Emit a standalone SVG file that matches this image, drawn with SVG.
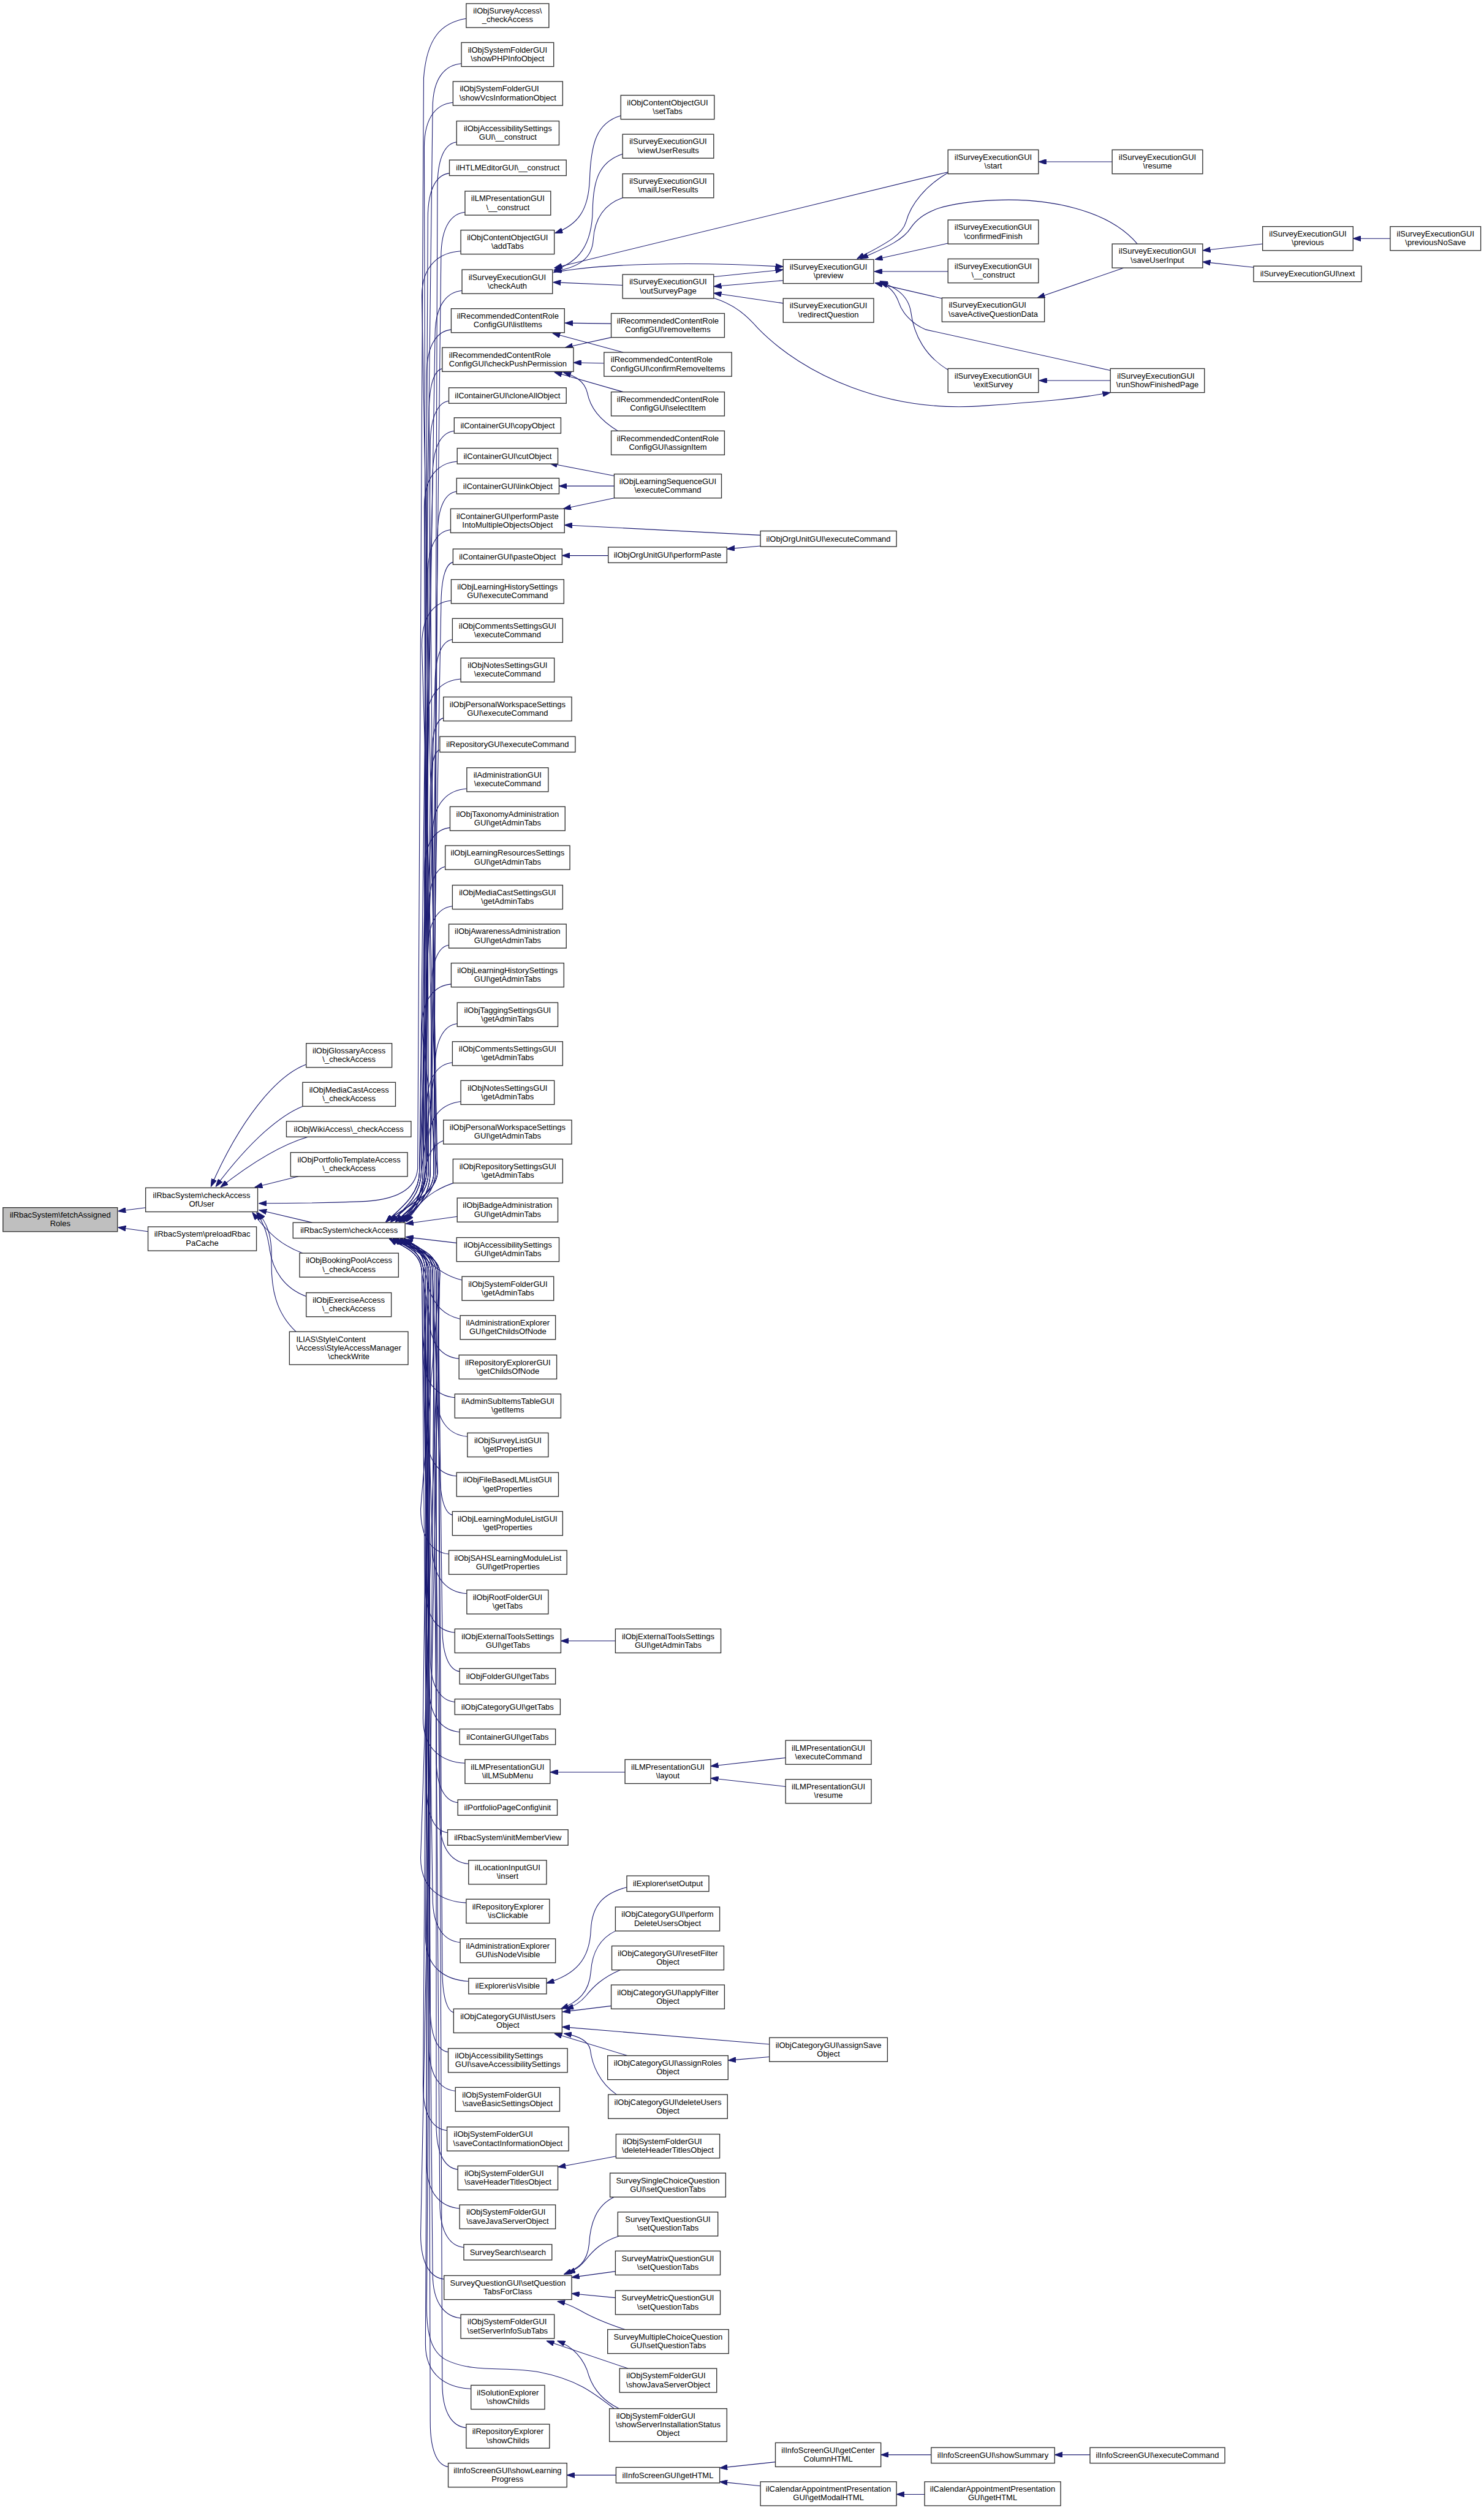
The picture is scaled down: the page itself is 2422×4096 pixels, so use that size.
<svg xmlns="http://www.w3.org/2000/svg" width="2422" height="4096" viewBox="0 0 2422 4096">
<style>
.n rect{fill:#fff;stroke:#333;stroke-width:1.4}
.r rect{fill:#bfbfbf}
.n text{font-family:"Liberation Sans",Arial,Helvetica,sans-serif;font-size:13.3px;text-anchor:middle;fill:#000}
.n text.l{text-anchor:start}
.e path{fill:none;stroke:#191970;stroke-width:1.1;marker-end:url(#ah)}
</style>
<defs>
<marker id="ah" viewBox="0 0 13 9" refX="13" refY="4.5" markerWidth="13" markerHeight="9" markerUnits="userSpaceOnUse" orient="auto"><path d="M0,0 L13,4.5 L0,9 Z" fill="#191970" stroke="#191970" stroke-width="1"/></marker>
</defs>
<rect width="2422" height="4096" fill="#fff"/>
<g transform="scale(0.978)">
<g id="edges" class="e">
<path d="M243,2015 L197,2021"/>
<path d="M247,2055 L197,2048"/>
<path d="M511,1776 C460,1795 400,1870 352,1980"/>
<path d="M505,1846 C470,1860 420,1900 360,1980"/>
<path d="M514,1897 C470,1910 420,1940 368,1981"/>
<path d="M498,1963 L425,1981"/>
<path d="M521,2040 L432,2019"/>
<path d="M505,2091 C470,2078 450,2060 421,2023"/>
<path d="M511,2163 C475,2150 455,2120 450,2085 C446,2055 438,2038 428,2023"/>
<path d="M494,2222 C460,2190 452,2150 453,2100 C454,2060 445,2040 430,2023"/>
<path d="M778,31 C735,38 712,65 707,130 L697,1950 C694,1985 660,2003 600,2005 C520,2008 470,2008 432,2008"/>
<path d="M770,106 c-24,2 -48,20 -48,75 L700,1955 C700,1995 666,2018 644,2039"/>
<path d="M756,171 c-24,2 -48,20 -48,75 L712,1955 C712,1995 674,2018 652,2039"/>
<path d="M762,237 c-16,2 -32,20 -32,75 L724,1955 C724,1995 682,2018 660,2039"/>
<path d="M750,289 c-18,2 -36,20 -36,75 L706,1955 C706,1995 689,2018 667,2039"/>
<path d="M776,354 c-20,2 -40,20 -40,75 L718,1955 C718,1995 695,2018 673,2039"/>
<path d="M769,419 c-32,2 -65,20 -65,75 L730,1955 C730,1995 666,2018 644,2039"/>
<path d="M771,485 c-22,2 -45,20 -45,75 L703,1955 C703,1995 674,2018 652,2039"/>
<path d="M753,550 c-20,2 -41,20 -41,75 L715,1955 C715,1995 682,2018 660,2039"/>
<path d="M738,615 c-11,2 -22,20 -22,75 L727,1955 C727,1995 689,2018 667,2039"/>
<path d="M749,669 c-15,2 -31,20 -31,75 L709,1955 C709,1995 695,2018 673,2039"/>
<path d="M758,719 c-18,2 -36,20 -36,75 L700,1955 C700,1995 666,2018 644,2039"/>
<path d="M763,770 c-27,2 -55,20 -55,75 L712,1955 C712,1995 674,2018 652,2039"/>
<path d="M762,820 c-16,2 -32,20 -32,75 L724,1955 C724,1995 682,2018 660,2039"/>
<path d="M752,884 c-19,2 -38,20 -38,75 L706,1955 C706,1995 689,2018 667,2039"/>
<path d="M756,938 c-10,2 -20,20 -20,75 L718,1955 C718,1995 695,2018 673,2039"/>
<path d="M753,1002 c-24,2 -49,20 -49,75 L730,1955 C730,1995 666,2018 644,2039"/>
<path d="M755,1067 c-14,2 -29,20 -29,75 L703,1955 C703,1995 674,2018 652,2039"/>
<path d="M769,1133 c-28,2 -57,20 -57,75 L715,1955 C715,1995 682,2018 660,2039"/>
<path d="M740,1198 c-10,2 -20,20 -20,75 L727,1955 C727,1995 689,2018 667,2039"/>
<path d="M734,1251 c-8,2 -16,20 -16,75 L709,1955 C709,1995 695,2018 673,2039"/>
<path d="M779,1316 c-28,2 -57,20 -57,75 L700,1955 C700,1995 666,2018 644,2039"/>
<path d="M751,1381 c-21,2 -43,20 -43,75 L712,1955 C712,1995 674,2018 652,2039"/>
<path d="M743,1446 c-13,2 -27,20 -27,75 L724,1955 C724,1995 682,2018 660,2039"/>
<path d="M755,1512 c-20,2 -41,20 -41,75 L706,1955 C706,1995 689,2018 667,2039"/>
<path d="M749,1577 c-14,2 -29,20 -29,75 L718,1955 C718,1995 695,2018 673,2039"/>
<path d="M753,1642 c-24,2 -49,20 -49,75 L730,1955 C730,1995 666,2018 644,2039"/>
<path d="M763,1708 c-18,2 -37,20 -37,75 L703,1955 C703,1995 674,2018 652,2039"/>
<path d="M755,1773 c-21,2 -43,20 -43,75 L715,1955 C715,1995 682,2018 660,2039"/>
<path d="M769,1838 C740,1842 716,1858 714,1910 C712,1990 690,2020 670,2039"/>
<path d="M740,1903 C720,1910 710,1935 708,1965 C706,2005 690,2025 665,2039"/>
<path d="M763,1972 C735,1980 712,1995 700,2010 L678,2039"/>
<path d="M763,2030 L677,2042"/>
<path d="M762,2074 L677,2064"/>
<path d="M771,2136 C745,2130 722,2112 708,2098 C697,2086 688,2074 676,2067"/>
<path d="M768,2201 C742,2195 724,2178 716,2150 C710,2120 700,2085 670,2067"/>
<path d="M766,2267 c-25,-2 -50,-20 -50,-75 L704,2125 C704,2088 672,2080 650,2067"/>
<path d="M759,2332 c-26,-2 -53,-20 -53,-75 L716,2125 C716,2088 678,2080 656,2067"/>
<path d="M780,2397 c-26,-2 -52,-20 -52,-75 L728,2125 C728,2088 684,2080 662,2067"/>
<path d="M762,2463 c-25,-2 -50,-20 -50,-75 L710,2125 C710,2088 690,2080 668,2067"/>
<path d="M755,2528 c-10,-2 -21,-20 -21,-75 L722,2125 C722,2088 696,2080 674,2067"/>
<path d="M749,2593 c-23,-2 -47,-20 -47,-75 L734,2125 C734,2088 672,2080 650,2067"/>
<path d="M779,2659 c-28,-2 -57,-20 -57,-75 L707,2125 C707,2088 678,2080 656,2067"/>
<path d="M759,2724 c-24,-2 -49,-20 -49,-75 L719,2125 C719,2088 684,2080 662,2067"/>
<path d="M767,2789 c-14,-2 -29,-20 -29,-75 L731,2125 C731,2088 690,2080 668,2067"/>
<path d="M759,2840 c-20,-2 -41,-20 -41,-75 L713,2125 C713,2088 696,2080 674,2067"/>
<path d="M767,2890 c-25,-2 -51,-20 -51,-75 L704,2125 C704,2088 672,2080 650,2067"/>
<path d="M776,2942 c-35,-2 -70,-20 -70,-75 L716,2125 C716,2088 678,2080 656,2067"/>
<path d="M764,3008 c-18,-2 -36,-20 -36,-75 L728,2125 C728,2088 684,2080 662,2067"/>
<path d="M747,3058 c-17,-2 -35,-20 -35,-75 L710,2125 C710,2088 690,2080 668,2067"/>
<path d="M782,3110 c-24,-2 -48,-20 -48,-75 L722,2125 C722,2088 696,2080 674,2067"/>
<path d="M778,3175 c-38,-2 -76,-20 -76,-75 L734,2125 C734,2088 672,2080 650,2067"/>
<path d="M768,3241 c-23,-2 -46,-20 -46,-75 L707,2125 C707,2088 678,2080 656,2067"/>
<path d="M782,3306 c-36,-2 -72,-20 -72,-75 L719,2125 C719,2088 684,2080 662,2067"/>
<path d="M757,3358 c-9,-2 -19,-20 -19,-75 L731,2125 C731,2088 690,2080 668,2067"/>
<path d="M748,3424 c-15,-2 -30,-20 -30,-75 L713,2125 C713,2088 696,2080 674,2067"/>
<path d="M760,3489 c-22,-2 -44,-20 -44,-75 L704,2125 C704,2088 672,2080 650,2067"/>
<path d="M746,3555 c-20,-2 -40,-20 -40,-75 L716,2125 C716,2088 678,2080 656,2067"/>
<path d="M764,3620 c-18,-2 -36,-20 -36,-75 L728,2125 C728,2088 684,2080 662,2067"/>
<path d="M767,3685 c-27,-2 -55,-20 -55,-75 L710,2125 C710,2088 690,2080 668,2067"/>
<path d="M774,3750 c-20,-2 -40,-20 -40,-75 L722,2125 C722,2088 696,2080 674,2067"/>
<path d="M741,3803 c-19,-2 -39,-20 -39,-75 L734,2125 C734,2088 672,2080 650,2067"/>
<path d="M769,3868 c-23,-2 -47,-20 -47,-75 L707,2125 C707,2088 678,2080 656,2067"/>
<path d="M786,3986 c-38,-2 -76,-20 -76,-75 L719,2125 C719,2088 684,2080 662,2067"/>
<path d="M778,4051 c-20,-2 -40,-20 -40,-75 L731,2125 C731,2088 690,2080 668,2067"/>
<path d="M748,4116 c-15,-2 -30,-20 -30,-75 L713,2125 C713,2088 696,2080 674,2067"/>
<path d="M1025,4019 C990,3992 962,3970 900,3958 C845,3948 790,3960 745,3938 C720,3925 712,3895 712,3850 L725,2125 C725,2088 680,2080 660,2067"/>
<path d="M1036,193 C995,205 986,240 984,300 C982,350 965,375 926,389"/>
<path d="M1039,257 C1000,270 990,300 989,350 C988,410 965,438 924,451"/>
<path d="M1039,330 C1005,342 992,370 990,400 C988,430 968,446 924,453"/>
<path d="M1582,287 L925,447"/>
<path d="M923,455 C1000,440 1150,436 1307,445"/>
<path d="M1190,462 L1307,450"/>
<path d="M1307,468 L1191,478"/>
<path d="M1307,506 L1191,489"/>
<path d="M1039,476 L923,471"/>
<path d="M1190,497 C1225,508 1245,525 1265,548 C1340,625 1480,690 1643,677 C1740,670 1800,665 1853,655"/>
<path d="M1856,270 L1733,270"/>
<path d="M1582,288 C1545,310 1520,340 1512,370 C1505,395 1470,410 1430,432"/>
<path d="M1898,407 C1850,350 1750,330 1660,334 C1580,338 1540,350 1520,380 C1505,405 1460,420 1436,432"/>
<path d="M1582,406 L1460,433"/>
<path d="M1582,453 L1459,453"/>
<path d="M1572,498 L1460,472"/>
<path d="M1582,617 C1545,595 1525,560 1520,520 C1515,490 1490,478 1468,469"/>
<path d="M1853,618 L1545,550 C1520,540 1505,520 1500,505 C1495,490 1485,478 1469,471"/>
<path d="M1853,635 L1734,635"/>
<path d="M1875,447 L1731,497"/>
<path d="M2107,407 L2007,418"/>
<path d="M2092,446 L2007,437"/>
<path d="M2320,398 L2258,398"/>
<path d="M1020,540 L943,539"/>
<path d="M1020,563 L943,580"/>
<path d="M1040,588 L922,556"/>
<path d="M1008,606 L957,605"/>
<path d="M1040,654 L925,621"/>
<path d="M1031,719 C1000,700 985,680 980,655 C975,635 960,628 940,621"/>
<path d="M1025,794 L917,773"/>
<path d="M1025,811 L933,811"/>
<path d="M1025,831 L940,849"/>
<path d="M1269,893 L942,876"/>
<path d="M1269,911 L1213,916"/>
<path d="M1015,927 L938,927"/>
<path d="M1027,2738 L936,2738"/>
<path d="M1043,2957 L918,2957"/>
<path d="M1311,2933 L1186,2947"/>
<path d="M1311,2981 L1186,2967"/>
<path d="M1046,3149 C1005,3160 988,3180 986,3220 C984,3270 960,3295 912,3309"/>
<path d="M1027,3222 C1000,3235 988,3260 986,3290 C983,3325 965,3340 936,3352"/>
<path d="M1035,3287 C1005,3300 990,3315 978,3330 C968,3342 958,3348 944,3352"/>
<path d="M1020,3347 L939,3357"/>
<path d="M1284,3411 L938,3382"/>
<path d="M1284,3432 L1215,3438"/>
<path d="M1047,3430 L925,3393"/>
<path d="M1029,3495 C1000,3475 988,3445 985,3420 C982,3405 965,3397 941,3393"/>
<path d="M1028,3598 L931,3616"/>
<path d="M1025,3666 C995,3680 985,3710 983,3745 C980,3775 965,3785 941,3795"/>
<path d="M1033,3731 C1005,3740 990,3755 978,3770 C968,3782 960,3788 947,3793"/>
<path d="M1027,3790 L954,3800"/>
<path d="M1027,3834 L954,3827"/>
<path d="M1043,3887 C1010,3876 985,3865 968,3855 C955,3848 945,3843 930,3840"/>
<path d="M1048,3952 L912,3906"/>
<path d="M1033,4019 C1005,4005 990,3985 983,3965 C975,3935 955,3915 930,3906"/>
<path d="M1028,4130 L946,4130"/>
<path d="M1294,4108 L1201,4118"/>
<path d="M1269,4148 L1201,4141"/>
<path d="M1554,4096 L1470,4096"/>
<path d="M1819,4096 L1760,4096"/>
<path d="M1543,4162 L1496,4162"/>
</g>
<g id="n_root" class="n r"><rect x="5" y="2015" width="191" height="40"/><text x="100.5" y="2031.8">ilRbacSystem\fetchAssigned</text><text x="100.5" y="2046.3">Roles</text></g>
<g id="n_checkAccessOfUser" class="n"><rect x="243" y="1982" width="187" height="40"/><text x="336.5" y="1998.8">ilRbacSystem\checkAccess</text><text x="336.5" y="2013.3">OfUser</text></g>
<g id="n_preloadRbac" class="n"><rect x="247" y="2047" width="181" height="40"/><text x="337.5" y="2063.8">ilRbacSystem\preloadRbac</text><text x="337.5" y="2078.3">PaCache</text></g>
<g id="n_glossary" class="n"><rect x="511" y="1741" width="143" height="40"/><text x="582.5" y="1757.8">ilObjGlossaryAccess</text><text x="582.5" y="1772.3">\_checkAccess</text></g>
<g id="n_mediacastacc" class="n"><rect x="505" y="1806" width="155" height="40"/><text x="582.5" y="1822.8">ilObjMediaCastAccess</text><text x="582.5" y="1837.3">\_checkAccess</text></g>
<g id="n_wiki" class="n"><rect x="478" y="1871" width="208" height="26"/><text x="582" y="1888.5">ilObjWikiAccess\_checkAccess</text></g>
<g id="n_portfolio" class="n"><rect x="485" y="1923" width="195" height="40"/><text x="582.5" y="1939.8">ilObjPortfolioTemplateAccess</text><text x="582.5" y="1954.3">\_checkAccess</text></g>
<g id="n_checkAccess" class="n"><rect x="489" y="2040" width="187" height="26"/><text x="582.5" y="2057.5">ilRbacSystem\checkAccess</text></g>
<g id="n_booking" class="n"><rect x="500" y="2091" width="165" height="40"/><text x="582.5" y="2107.8">ilObjBookingPoolAccess</text><text x="582.5" y="2122.3">\_checkAccess</text></g>
<g id="n_exercise" class="n"><rect x="511" y="2157" width="142" height="40"/><text x="582" y="2173.8">ilObjExerciseAccess</text><text x="582" y="2188.3">\_checkAccess</text></g>
<g id="n_ilias" class="n"><rect x="483" y="2222" width="198" height="55"/><text class="l" x="494.3" y="2238.8">ILIAS\Style\Content</text><text x="582" y="2253.3">\Access\StyleAccessManager</text><text x="582" y="2267.8">\checkWrite</text></g>
<g id="n4_01" class="n"><rect x="778" y="6" width="138" height="40"/><text x="847" y="22.8">ilObjSurveyAccess\</text><text x="847" y="37.3">_checkAccess</text></g>
<g id="n4_02" class="n"><rect x="770" y="71" width="154" height="40"/><text x="847" y="87.8">ilObjSystemFolderGUI</text><text x="847" y="102.3">\showPHPInfoObject</text></g>
<g id="n4_03" class="n"><rect x="756" y="136" width="183" height="40"/><text class="l" x="767.3" y="152.8">ilObjSystemFolderGUI</text><text x="847.5" y="167.3">\showVcsInformationObject</text></g>
<g id="n4_04" class="n"><rect x="762" y="202" width="171" height="40"/><text x="847.5" y="218.8">ilObjAccessibilitySettings</text><text x="847.5" y="233.3">GUI\__construct</text></g>
<g id="n4_05" class="n"><rect x="750" y="267" width="195" height="26"/><text x="847.5" y="284.5">ilHTLMEditorGUI\__construct</text></g>
<g id="n4_06" class="n"><rect x="776" y="319" width="143" height="40"/><text x="847.5" y="335.8">ilLMPresentationGUI</text><text x="847.5" y="350.3">\__construct</text></g>
<g id="n4_07" class="n"><rect x="769" y="384" width="156" height="40"/><text x="847" y="400.8">ilObjContentObjectGUI</text><text x="847" y="415.3">\addTabs</text></g>
<g id="n4_08" class="n"><rect x="771" y="450" width="151" height="40"/><text x="846.5" y="466.8">ilSurveyExecutionGUI</text><text x="846.5" y="481.3">\checkAuth</text></g>
<g id="n4_09" class="n"><rect x="753" y="515" width="189" height="40"/><text x="847.5" y="531.8">ilRecommendedContentRole</text><text x="847.5" y="546.3">ConfigGUI\listItems</text></g>
<g id="n4_10" class="n"><rect x="738" y="580" width="219" height="40"/><text class="l" x="749.3" y="596.8">ilRecommendedContentRole</text><text x="847.5" y="611.3">ConfigGUI\checkPushPermission</text></g>
<g id="n4_11" class="n"><rect x="749" y="647" width="196" height="26"/><text x="847" y="664.5">ilContainerGUI\cloneAllObject</text></g>
<g id="n4_12" class="n"><rect x="758" y="697" width="178" height="26"/><text x="847" y="714.5">ilContainerGUI\copyObject</text></g>
<g id="n4_13" class="n"><rect x="763" y="748" width="168" height="26"/><text x="847" y="765.5">ilContainerGUI\cutObject</text></g>
<g id="n4_14" class="n"><rect x="762" y="798" width="171" height="26"/><text x="847.5" y="815.5">ilContainerGUI\linkObject</text></g>
<g id="n4_15" class="n"><rect x="752" y="849" width="190" height="40"/><text x="847" y="865.8">ilContainerGUI\performPaste</text><text x="847" y="880.3">IntoMultipleObjectsObject</text></g>
<g id="n4_16" class="n"><rect x="756" y="916" width="182" height="26"/><text x="847" y="933.5">ilContainerGUI\pasteObject</text></g>
<g id="n4_17" class="n"><rect x="753" y="967" width="188" height="40"/><text x="847" y="983.8">ilObjLearningHistorySettings</text><text x="847" y="998.3">GUI\executeCommand</text></g>
<g id="n4_18" class="n"><rect x="755" y="1032" width="184" height="40"/><text x="847" y="1048.8">ilObjCommentsSettingsGUI</text><text x="847" y="1063.3">\executeCommand</text></g>
<g id="n4_19" class="n"><rect x="769" y="1098" width="156" height="40"/><text x="847" y="1114.8">ilObjNotesSettingsGUI</text><text x="847" y="1129.3">\executeCommand</text></g>
<g id="n4_20" class="n"><rect x="740" y="1163" width="214" height="40"/><text x="847" y="1179.8">ilObjPersonalWorkspaceSettings</text><text x="847" y="1194.3">GUI\executeCommand</text></g>
<g id="n4_21" class="n"><rect x="734" y="1229" width="226" height="26"/><text x="847" y="1246.5">ilRepositoryGUI\executeCommand</text></g>
<g id="n4_22" class="n"><rect x="779" y="1281" width="136" height="40"/><text x="847" y="1297.8">ilAdministrationGUI</text><text x="847" y="1312.3">\executeCommand</text></g>
<g id="n4_23" class="n"><rect x="751" y="1346" width="192" height="40"/><text x="847" y="1362.8">ilObjTaxonomyAdministration</text><text x="847" y="1377.3">GUI\getAdminTabs</text></g>
<g id="n4_24" class="n"><rect x="743" y="1411" width="208" height="40"/><text x="847" y="1427.8">ilObjLearningResourcesSettings</text><text x="847" y="1442.3">GUI\getAdminTabs</text></g>
<g id="n4_25" class="n"><rect x="755" y="1477" width="184" height="40"/><text x="847" y="1493.8">ilObjMediaCastSettingsGUI</text><text x="847" y="1508.3">\getAdminTabs</text></g>
<g id="n4_26" class="n"><rect x="749" y="1542" width="196" height="40"/><text x="847" y="1558.8">ilObjAwarenessAdministration</text><text x="847" y="1573.3">GUI\getAdminTabs</text></g>
<g id="n4_27" class="n"><rect x="753" y="1607" width="188" height="40"/><text x="847" y="1623.8">ilObjLearningHistorySettings</text><text x="847" y="1638.3">GUI\getAdminTabs</text></g>
<g id="n4_28" class="n"><rect x="763" y="1673" width="168" height="40"/><text x="847" y="1689.8">ilObjTaggingSettingsGUI</text><text x="847" y="1704.3">\getAdminTabs</text></g>
<g id="n4_29" class="n"><rect x="755" y="1738" width="184" height="40"/><text x="847" y="1754.8">ilObjCommentsSettingsGUI</text><text x="847" y="1769.3">\getAdminTabs</text></g>
<g id="n4_30" class="n"><rect x="769" y="1803" width="156" height="40"/><text x="847" y="1819.8">ilObjNotesSettingsGUI</text><text x="847" y="1834.3">\getAdminTabs</text></g>
<g id="n4_31" class="n"><rect x="740" y="1869" width="214" height="40"/><text x="847" y="1885.8">ilObjPersonalWorkspaceSettings</text><text x="847" y="1900.3">GUI\getAdminTabs</text></g>
<g id="n4_32" class="n"><rect x="756" y="1934" width="183" height="40"/><text x="847.5" y="1950.8">ilObjRepositorySettingsGUI</text><text x="847.5" y="1965.3">\getAdminTabs</text></g>
<g id="n4_33" class="n"><rect x="763" y="1999" width="168" height="40"/><text x="847" y="2015.8">ilObjBadgeAdministration</text><text x="847" y="2030.3">GUI\getAdminTabs</text></g>
<g id="n4_34" class="n"><rect x="762" y="2065" width="171" height="40"/><text x="847.5" y="2081.8">ilObjAccessibilitySettings</text><text x="847.5" y="2096.3">GUI\getAdminTabs</text></g>
<g id="n4_35" class="n"><rect x="771" y="2130" width="153" height="40"/><text x="847.5" y="2146.8">ilObjSystemFolderGUI</text><text x="847.5" y="2161.3">\getAdminTabs</text></g>
<g id="n4_36" class="n"><rect x="768" y="2195" width="159" height="40"/><text x="847.5" y="2211.8">ilAdministrationExplorer</text><text x="847.5" y="2226.3">GUI\getChildsOfNode</text></g>
<g id="n4_37" class="n"><rect x="766" y="2261" width="163" height="40"/><text x="847.5" y="2277.8">ilRepositoryExplorerGUI</text><text x="847.5" y="2292.3">\getChildsOfNode</text></g>
<g id="n4_38" class="n"><rect x="759" y="2326" width="177" height="40"/><text x="847.5" y="2342.8">ilAdminSubItemsTableGUI</text><text x="847.5" y="2357.3">\getItems</text></g>
<g id="n4_39" class="n"><rect x="780" y="2391" width="135" height="40"/><text x="847.5" y="2407.8">ilObjSurveyListGUI</text><text x="847.5" y="2422.3">\getProperties</text></g>
<g id="n4_40" class="n"><rect x="762" y="2457" width="170" height="40"/><text x="847" y="2473.8">ilObjFileBasedLMListGUI</text><text x="847" y="2488.3">\getProperties</text></g>
<g id="n4_41" class="n"><rect x="755" y="2522" width="184" height="40"/><text x="847" y="2538.8">ilObjLearningModuleListGUI</text><text x="847" y="2553.3">\getProperties</text></g>
<g id="n4_42" class="n"><rect x="749" y="2587" width="197" height="40"/><text x="847.5" y="2603.8">ilObjSAHSLearningModuleList</text><text x="847.5" y="2618.3">GUI\getProperties</text></g>
<g id="n4_43" class="n"><rect x="779" y="2653" width="136" height="40"/><text x="847" y="2669.8">ilObjRootFolderGUI</text><text x="847" y="2684.3">\getTabs</text></g>
<g id="n4_44" class="n"><rect x="759" y="2718" width="177" height="40"/><text x="847.5" y="2734.8">ilObjExternalToolsSettings</text><text x="847.5" y="2749.3">GUI\getTabs</text></g>
<g id="n4_45" class="n"><rect x="767" y="2784" width="160" height="26"/><text x="847" y="2801.5">ilObjFolderGUI\getTabs</text></g>
<g id="n4_46" class="n"><rect x="759" y="2835" width="176" height="26"/><text x="847" y="2852.5">ilObjCategoryGUI\getTabs</text></g>
<g id="n4_47" class="n"><rect x="767" y="2885" width="160" height="26"/><text x="847" y="2902.5">ilContainerGUI\getTabs</text></g>
<g id="n4_48" class="n"><rect x="776" y="2936" width="142" height="40"/><text x="847" y="2952.8">ilLMPresentationGUI</text><text x="847" y="2967.3">\ilLMSubMenu</text></g>
<g id="n4_49" class="n"><rect x="764" y="3003" width="166" height="26"/><text x="847" y="3020.5">ilPortfolioPageConfig\init</text></g>
<g id="n4_50" class="n"><rect x="747" y="3053" width="201" height="26"/><text x="847.5" y="3070.5">ilRbacSystem\initMemberView</text></g>
<g id="n4_51" class="n"><rect x="782" y="3104" width="130" height="40"/><text x="847" y="3120.8">ilLocationInputGUI</text><text x="847" y="3135.3">\insert</text></g>
<g id="n4_52" class="n"><rect x="778" y="3169" width="139" height="40"/><text x="847.5" y="3185.8">ilRepositoryExplorer</text><text x="847.5" y="3200.3">\isClickable</text></g>
<g id="n4_53" class="n"><rect x="768" y="3235" width="159" height="40"/><text x="847.5" y="3251.8">ilAdministrationExplorer</text><text x="847.5" y="3266.3">GUI\isNodeVisible</text></g>
<g id="n4_54" class="n"><rect x="782" y="3301" width="130" height="26"/><text x="847" y="3318.5">ilExplorer\isVisible</text></g>
<g id="n4_55" class="n"><rect x="757" y="3352" width="181" height="40"/><text x="847.5" y="3368.8">ilObjCategoryGUI\listUsers</text><text x="847.5" y="3383.3">Object</text></g>
<g id="n4_56" class="n"><rect x="748" y="3418" width="199" height="40"/><text class="l" x="759.3" y="3434.8">ilObjAccessibilitySettings</text><text x="847.5" y="3449.3">GUI\saveAccessibilitySettings</text></g>
<g id="n4_57" class="n"><rect x="760" y="3483" width="174" height="40"/><text class="l" x="771.3" y="3499.8">ilObjSystemFolderGUI</text><text x="847" y="3514.3">\saveBasicSettingsObject</text></g>
<g id="n4_58" class="n"><rect x="746" y="3549" width="203" height="40"/><text class="l" x="757.3" y="3565.8">ilObjSystemFolderGUI</text><text x="847.5" y="3580.3">\saveContactInformationObject</text></g>
<g id="n4_59" class="n"><rect x="764" y="3614" width="167" height="40"/><text class="l" x="775.3" y="3630.8">ilObjSystemFolderGUI</text><text x="847.5" y="3645.3">\saveHeaderTitlesObject</text></g>
<g id="n4_60" class="n"><rect x="767" y="3679" width="160" height="40"/><text class="l" x="778.3" y="3695.8">ilObjSystemFolderGUI</text><text x="847" y="3710.3">\saveJavaServerObject</text></g>
<g id="n4_61" class="n"><rect x="774" y="3745" width="147" height="26"/><text x="847.5" y="3762.5">SurveySearch\search</text></g>
<g id="n4_62" class="n"><rect x="741" y="3797" width="213" height="40"/><text x="847.5" y="3813.8">SurveyQuestionGUI\setQuestion</text><text x="847.5" y="3828.3">TabsForClass</text></g>
<g id="n4_63" class="n"><rect x="769" y="3862" width="156" height="40"/><text class="l" x="780.3" y="3878.8">ilObjSystemFolderGUI</text><text x="847" y="3893.3">\setServerInfoSubTabs</text></g>
<g id="n4_64" class="n"><rect x="786" y="3980" width="123" height="40"/><text x="847.5" y="3996.8">ilSolutionExplorer</text><text x="847.5" y="4011.3">\showChilds</text></g>
<g id="n4_65" class="n"><rect x="778" y="4045" width="139" height="40"/><text x="847.5" y="4061.8">ilRepositoryExplorer</text><text x="847.5" y="4076.3">\showChilds</text></g>
<g id="n4_66" class="n"><rect x="748" y="4110" width="198" height="40"/><text x="847" y="4126.8">ilInfoScreenGUI\showLearning</text><text x="847" y="4141.3">Progress</text></g>
<g id="n5_setTabs" class="n"><rect x="1036" y="159" width="156" height="40"/><text x="1114" y="175.8">ilObjContentObjectGUI</text><text x="1114" y="190.3">\setTabs</text></g>
<g id="n5_viewUserResults" class="n"><rect x="1039" y="224" width="152" height="40"/><text x="1115" y="240.8">ilSurveyExecutionGUI</text><text x="1115" y="255.3">\viewUserResults</text></g>
<g id="n5_mailUserResults" class="n"><rect x="1039" y="290" width="152" height="40"/><text x="1115" y="306.8">ilSurveyExecutionGUI</text><text x="1115" y="321.3">\mailUserResults</text></g>
<g id="n5_outSurveyPage" class="n"><rect x="1039" y="458" width="152" height="40"/><text x="1115" y="474.8">ilSurveyExecutionGUI</text><text x="1115" y="489.3">\outSurveyPage</text></g>
<g id="n5_removeItems" class="n"><rect x="1020" y="523" width="189" height="40"/><text x="1114.5" y="539.8">ilRecommendedContentRole</text><text x="1114.5" y="554.3">ConfigGUI\removeItems</text></g>
<g id="n5_confirmRemoveItems" class="n"><rect x="1008" y="588" width="213" height="40"/><text class="l" x="1019.3" y="604.8">ilRecommendedContentRole</text><text x="1114.5" y="619.3">ConfigGUI\confirmRemoveItems</text></g>
<g id="n5_selectItem" class="n"><rect x="1020" y="654" width="189" height="40"/><text x="1114.5" y="670.8">ilRecommendedContentRole</text><text x="1114.5" y="685.3">ConfigGUI\selectItem</text></g>
<g id="n5_assignItem" class="n"><rect x="1020" y="719" width="189" height="40"/><text x="1114.5" y="735.8">ilRecommendedContentRole</text><text x="1114.5" y="750.3">ConfigGUI\assignItem</text></g>
<g id="n5_lsExecute" class="n"><rect x="1025" y="791" width="179" height="40"/><text x="1114.5" y="807.8">ilObjLearningSequenceGUI</text><text x="1114.5" y="822.3">\executeCommand</text></g>
<g id="n5_orgPerformPaste" class="n"><rect x="1015" y="913" width="198" height="26"/><text x="1114" y="930.5">ilObjOrgUnitGUI\performPaste</text></g>
<g id="n5_extAdminTabs" class="n"><rect x="1027" y="2718" width="176" height="40"/><text x="1115" y="2734.8">ilObjExternalToolsSettings</text><text x="1115" y="2749.3">GUI\getAdminTabs</text></g>
<g id="n5_lmLayout" class="n"><rect x="1043" y="2936" width="143" height="40"/><text x="1114.5" y="2952.8">ilLMPresentationGUI</text><text x="1114.5" y="2967.3">\layout</text></g>
<g id="n5_setOutput" class="n"><rect x="1046" y="3130" width="137" height="26"/><text x="1114.5" y="3147.5">ilExplorer\setOutput</text></g>
<g id="n5_performDelete" class="n"><rect x="1027" y="3182" width="174" height="40"/><text x="1114" y="3198.8">ilObjCategoryGUI\perform</text><text x="1114" y="3213.3">DeleteUsersObject</text></g>
<g id="n5_resetFilter" class="n"><rect x="1021" y="3247" width="187" height="40"/><text x="1114.5" y="3263.8">ilObjCategoryGUI\resetFilter</text><text x="1114.5" y="3278.3">Object</text></g>
<g id="n5_applyFilter" class="n"><rect x="1020" y="3312" width="189" height="40"/><text x="1114.5" y="3328.8">ilObjCategoryGUI\applyFilter</text><text x="1114.5" y="3343.3">Object</text></g>
<g id="n5_assignRoles" class="n"><rect x="1014" y="3430" width="201" height="40"/><text x="1114.5" y="3446.8">ilObjCategoryGUI\assignRoles</text><text x="1114.5" y="3461.3">Object</text></g>
<g id="n5_deleteUsers" class="n"><rect x="1015" y="3495" width="199" height="40"/><text x="1114.5" y="3511.8">ilObjCategoryGUI\deleteUsers</text><text x="1114.5" y="3526.3">Object</text></g>
<g id="n5_deleteHeaderTitles" class="n"><rect x="1028" y="3561" width="173" height="40"/><text class="l" x="1039.3" y="3577.8">ilObjSystemFolderGUI</text><text x="1114.5" y="3592.3">\deleteHeaderTitlesObject</text></g>
<g id="n5_singleChoice" class="n"><rect x="1018" y="3626" width="193" height="40"/><text x="1114.5" y="3642.8">SurveySingleChoiceQuestion</text><text x="1114.5" y="3657.3">GUI\setQuestionTabs</text></g>
<g id="n5_textQ" class="n"><rect x="1031" y="3691" width="167" height="40"/><text x="1114.5" y="3707.8">SurveyTextQuestionGUI</text><text x="1114.5" y="3722.3">\setQuestionTabs</text></g>
<g id="n5_matrixQ" class="n"><rect x="1027" y="3756" width="175" height="40"/><text x="1114.5" y="3772.8">SurveyMatrixQuestionGUI</text><text x="1114.5" y="3787.3">\setQuestionTabs</text></g>
<g id="n5_metricQ" class="n"><rect x="1027" y="3822" width="175" height="40"/><text x="1114.5" y="3838.8">SurveyMetricQuestionGUI</text><text x="1114.5" y="3853.3">\setQuestionTabs</text></g>
<g id="n5_multiQ" class="n"><rect x="1014" y="3887" width="202" height="40"/><text x="1115" y="3903.8">SurveyMultipleChoiceQuestion</text><text x="1115" y="3918.3">GUI\setQuestionTabs</text></g>
<g id="n5_showJava" class="n"><rect x="1034" y="3952" width="162" height="40"/><text class="l" x="1045.3" y="3968.8">ilObjSystemFolderGUI</text><text x="1115" y="3983.3">\showJavaServerObject</text></g>
<g id="n5_showServerInst" class="n"><rect x="1017" y="4019" width="196" height="55"/><text class="l" x="1028.3" y="4035.8">ilObjSystemFolderGUI</text><text x="1115" y="4050.3">\showServerInstallationStatus</text><text x="1115" y="4064.8">Object</text></g>
<g id="n5_infoGetHTML" class="n"><rect x="1028" y="4117" width="173" height="26"/><text x="1114.5" y="4134.5">ilInfoScreenGUI\getHTML</text></g>
<g id="n6_preview" class="n"><rect x="1307" y="433" width="151" height="40"/><text x="1382.5" y="449.8">ilSurveyExecutionGUI</text><text x="1382.5" y="464.3">\preview</text></g>
<g id="n6_redirectQuestion" class="n"><rect x="1307" y="498" width="151" height="40"/><text x="1382.5" y="514.8">ilSurveyExecutionGUI</text><text x="1382.5" y="529.3">\redirectQuestion</text></g>
<g id="n6_orgExecute" class="n"><rect x="1269" y="886" width="227" height="26"/><text x="1382.5" y="903.5">ilObjOrgUnitGUI\executeCommand</text></g>
<g id="n6_lmExecute" class="n"><rect x="1311" y="2904" width="143" height="40"/><text x="1382.5" y="2920.8">ilLMPresentationGUI</text><text x="1382.5" y="2935.3">\executeCommand</text></g>
<g id="n6_lmResume" class="n"><rect x="1311" y="2969" width="143" height="40"/><text x="1382.5" y="2985.8">ilLMPresentationGUI</text><text x="1382.5" y="3000.3">\resume</text></g>
<g id="n6_assignSave" class="n"><rect x="1284" y="3400" width="197" height="40"/><text x="1382.5" y="3416.8">ilObjCategoryGUI\assignSave</text><text x="1382.5" y="3431.3">Object</text></g>
<g id="n6_centerColumn" class="n"><rect x="1294" y="4076" width="176" height="40"/><text x="1382" y="4092.8">ilInfoScreenGUI\getCenter</text><text x="1382" y="4107.3">ColumnHTML</text></g>
<g id="n6_getModalHTML" class="n"><rect x="1269" y="4141" width="227" height="40"/><text x="1382.5" y="4157.8">ilCalendarAppointmentPresentation</text><text x="1382.5" y="4172.3">GUI\getModalHTML</text></g>
<g id="n7_start" class="n"><rect x="1582" y="250" width="151" height="40"/><text x="1657.5" y="266.8">ilSurveyExecutionGUI</text><text x="1657.5" y="281.3">\start</text></g>
<g id="n7_confirmedFinish" class="n"><rect x="1582" y="367" width="151" height="40"/><text x="1657.5" y="383.8">ilSurveyExecutionGUI</text><text x="1657.5" y="398.3">\confirmedFinish</text></g>
<g id="n7_construct" class="n"><rect x="1582" y="432" width="151" height="40"/><text x="1657.5" y="448.8">ilSurveyExecutionGUI</text><text x="1657.5" y="463.3">\__construct</text></g>
<g id="n7_saveActive" class="n"><rect x="1572" y="497" width="171" height="40"/><text class="l" x="1583.3" y="513.8">ilSurveyExecutionGUI</text><text x="1657.5" y="528.3">\saveActiveQuestionData</text></g>
<g id="n7_exitSurvey" class="n"><rect x="1582" y="615" width="151" height="40"/><text x="1657.5" y="631.8">ilSurveyExecutionGUI</text><text x="1657.5" y="646.3">\exitSurvey</text></g>
<g id="n7_showSummary" class="n"><rect x="1554" y="4084" width="206" height="26"/><text x="1657" y="4101.5">ilInfoScreenGUI\showSummary</text></g>
<g id="n7_calGetHTML" class="n"><rect x="1543" y="4141" width="227" height="40"/><text x="1656.5" y="4157.8">ilCalendarAppointmentPresentation</text><text x="1656.5" y="4172.3">GUI\getHTML</text></g>
<g id="n8_resume" class="n"><rect x="1856" y="250" width="151" height="40"/><text x="1931.5" y="266.8">ilSurveyExecutionGUI</text><text x="1931.5" y="281.3">\resume</text></g>
<g id="n8_saveUserInput" class="n"><rect x="1856" y="407" width="151" height="40"/><text x="1931.5" y="423.8">ilSurveyExecutionGUI</text><text x="1931.5" y="438.3">\saveUserInput</text></g>
<g id="n8_runShowFinished" class="n"><rect x="1853" y="615" width="157" height="40"/><text class="l" x="1864.3" y="631.8">ilSurveyExecutionGUI</text><text x="1931.5" y="646.3">\runShowFinishedPage</text></g>
<g id="n8_infoExecute" class="n"><rect x="1819" y="4084" width="225" height="26"/><text x="1931.5" y="4101.5">ilInfoScreenGUI\executeCommand</text></g>
<g id="n9_previous" class="n"><rect x="2107" y="378" width="151" height="40"/><text x="2182.5" y="394.8">ilSurveyExecutionGUI</text><text x="2182.5" y="409.3">\previous</text></g>
<g id="n9_next" class="n"><rect x="2092" y="444" width="180" height="26"/><text x="2182" y="461.5">ilSurveyExecutionGUI\next</text></g>
<g id="n10_previousNoSave" class="n"><rect x="2320" y="378" width="151" height="40"/><text x="2395.5" y="394.8">ilSurveyExecutionGUI</text><text x="2395.5" y="409.3">\previousNoSave</text></g>
</g>
</svg>
